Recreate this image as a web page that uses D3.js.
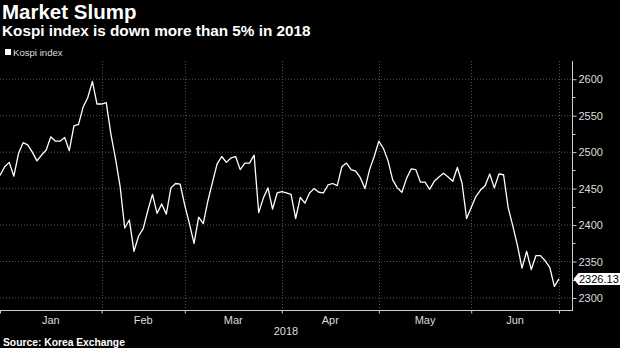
<!DOCTYPE html>
<html>
<head>
<meta charset="utf-8">
<script src="https://cdn.jsdelivr.net/npm/d3@7"></script>
<style>
  html, body { margin: 0; padding: 0; background: #000; }
  svg { display: block; }
</style>
</head>
<body>
<svg id="chart" width="620" height="348"></svg>
<script>
// ---- data (index = trading day, Dec 28 2017 .. Jun 29 2018) ----
const values = [
  2468, 2480, 2486, 2467, 2498, 2513, 2510, 2500, 2488, 2496,
  2503, 2521, 2515, 2515, 2520, 2502, 2536, 2538, 2562, 2575,
  2597, 2566, 2566, 2568, 2525, 2491, 2453, 2396, 2407, 2364,
  2385, 2395, 2420, 2442, 2416, 2429, 2415, 2451, 2457, 2456,
  2427, 2402, 2375, 2411, 2402, 2433, 2459, 2484, 2494, 2486,
  2492, 2494, 2476, 2485, 2485, 2496, 2417, 2437, 2451, 2422,
  2444, 2446, 2444, 2442, 2409, 2438, 2430, 2444, 2450, 2445,
  2444, 2455, 2457, 2454, 2480, 2485, 2476, 2474, 2465, 2450,
  2476, 2494, 2515, 2505, 2488, 2462, 2451, 2445, 2464, 2477,
  2476, 2459, 2459, 2449, 2460, 2466, 2471, 2466, 2460, 2479,
  2458, 2409, 2424, 2439, 2448, 2454, 2470, 2451, 2470, 2469,
  2424, 2399, 2372, 2341, 2364, 2339, 2358, 2358, 2351, 2342,
  2316, 2326.13
];
const monthLabels = ["Jan", "Feb", "Mar", "Apr", "May", "Jun"];
const monthEnds = [22, 40, 61, 82, 102, 121];   // index of last trading day of each month
const yTicks = [2300, 2350, 2400, 2450, 2500, 2550, 2600];
const yMinorTicks = [2325, 2375, 2425, 2475, 2525, 2575];
const yearLabel = "2018";
const lastLabel = "2326.13";
const titleText = "Market Slump";
const subtitleText = "Kospi index is down more than 5% in 2018";
const legendText = "Kospi index";
const sourceText = "Source: Korea Exchange";

// ---- layout ----
const svg = d3.select("#chart");
const plotLeft = 0, plotRight = 572, plotTop = 61, plotBottom = 310;
const x = d3.scaleLinear().domain([0, values.length - 1]).range([0, 559]);
const y = d3.scaleLinear().domain([2283.5, 2625]).range([plotBottom, plotTop]);
const FONT = "'Liberation Sans', Arial, sans-serif";

svg.append("rect").attr("width", 620).attr("height", 348).attr("fill", "#000");

// titles
svg.append("text").attr("x", 2).attr("y", 19).text(titleText)
  .attr("font-family", FONT).attr("font-weight", "bold").attr("font-size", 20.5).attr("fill", "#fff");
svg.append("text").attr("x", 2).attr("y", 36).text(subtitleText)
  .attr("font-family", FONT).attr("font-weight", "bold").attr("font-size", 15.3).attr("fill", "#fff");

// legend
svg.append("rect").attr("x", 5).attr("y", 49).attr("width", 6).attr("height", 6).attr("fill", "#fff");
svg.append("text").attr("x", 13).attr("y", 55.5).text(legendText)
  .attr("font-family", FONT).attr("font-size", 9.6).attr("fill", "#ddd");

// grid
const grid = svg.append("g");
grid.selectAll("line.h").data(yTicks).join("line")
  .attr("x1", plotLeft).attr("x2", plotRight)
  .attr("y1", d => y(d)).attr("y2", d => y(d))
  .attr("stroke", "#555").attr("stroke-width", 1).attr("stroke-dasharray", "1,2");
grid.selectAll("line.v").data(monthEnds).join("line")
  .attr("x1", d => Math.round(x(d)) + 0.5).attr("x2", d => Math.round(x(d)) + 0.5)
  .attr("y1", plotTop).attr("y2", plotBottom)
  .attr("stroke", "#555").attr("stroke-width", 1).attr("stroke-dasharray", "1,2");

// y axis
const yAxis = d3.axisRight(y).tickValues(yTicks).tickSize(4).tickSizeOuter(0).tickPadding(2)
  .tickFormat(d3.format("d"));
const gy = svg.append("g").attr("transform", `translate(${plotRight + 0.5},0)`).call(yAxis);
gy.select(".domain").remove();
gy.selectAll(".tick line").attr("stroke", "#ccc");
gy.selectAll(".tick text").attr("font-family", FONT).attr("font-size", 11).attr("fill", "#ddd");
svg.append("line").attr("x1", plotRight + 0.5).attr("x2", plotRight + 0.5)
  .attr("y1", plotTop).attr("y2", plotBottom + 1).attr("stroke", "#ccc");
svg.append("g").selectAll("line").data(yMinorTicks).join("line")
  .attr("x1", plotRight + 0.5).attr("x2", plotRight + 3.5)
  .attr("y1", d => Math.round(y(d)) + 0.5).attr("y2", d => Math.round(y(d)) + 0.5)
  .attr("stroke", "#ccc");

// x axis
const xAxis = d3.axisBottom(x).tickValues([0, ...monthEnds]).tickSize(3).tickSizeOuter(0).tickFormat("");
const gx = svg.append("g").attr("transform", `translate(0,${plotBottom + 0.5})`).call(xAxis);
gx.select(".domain").remove();
gx.selectAll(".tick line").attr("stroke", "#ccc");
svg.append("line").attr("x1", 0).attr("x2", plotRight + 1)
  .attr("y1", plotBottom + 0.5).attr("y2", plotBottom + 0.5).attr("stroke", "#ccc");

const bounds = [0, ...monthEnds];
svg.append("g").selectAll("text").data(monthLabels).join("text")
  .attr("x", (d, i) => (x(bounds[i]) + x(bounds[i + 1])) / 2)
  .attr("y", 323.5)
  .attr("text-anchor", "middle")
  .attr("font-family", FONT).attr("font-size", 11).attr("fill", "#ddd")
  .text(d => d);
svg.append("text").attr("x", (plotLeft + plotRight) / 2).attr("y", 334.5)
  .attr("text-anchor", "middle").attr("font-family", FONT).attr("font-size", 11).attr("fill", "#ddd")
  .text(yearLabel);

// source
svg.append("text").attr("x", 3).attr("y", 346).text(sourceText)
  .attr("font-family", FONT).attr("font-weight", "bold").attr("font-size", 10.3).attr("fill", "#fff");

// line
const line = d3.line().x((d, i) => x(i)).y(d => y(d));
svg.append("path").datum(values).attr("d", line)
  .attr("fill", "none").attr("stroke", "#fff").attr("stroke-width", 1.3).attr("stroke-linejoin", "round");

// last value tag
const lastY = y(values[values.length - 1]);
const tx = plotRight + 1.5;
svg.append("path")
  .attr("d", `M${tx},${lastY} L${tx + 5},${lastY - 6} L620,${lastY - 6} L620,${lastY + 6} L${tx + 5},${lastY + 6} Z`)
  .attr("fill", "#fff");
svg.append("text").attr("x", tx + 5.5).attr("y", lastY + 4).text(lastLabel)
  .attr("font-family", FONT).attr("font-size", 11).attr("fill", "#000");
</script>
</body>
</html>
